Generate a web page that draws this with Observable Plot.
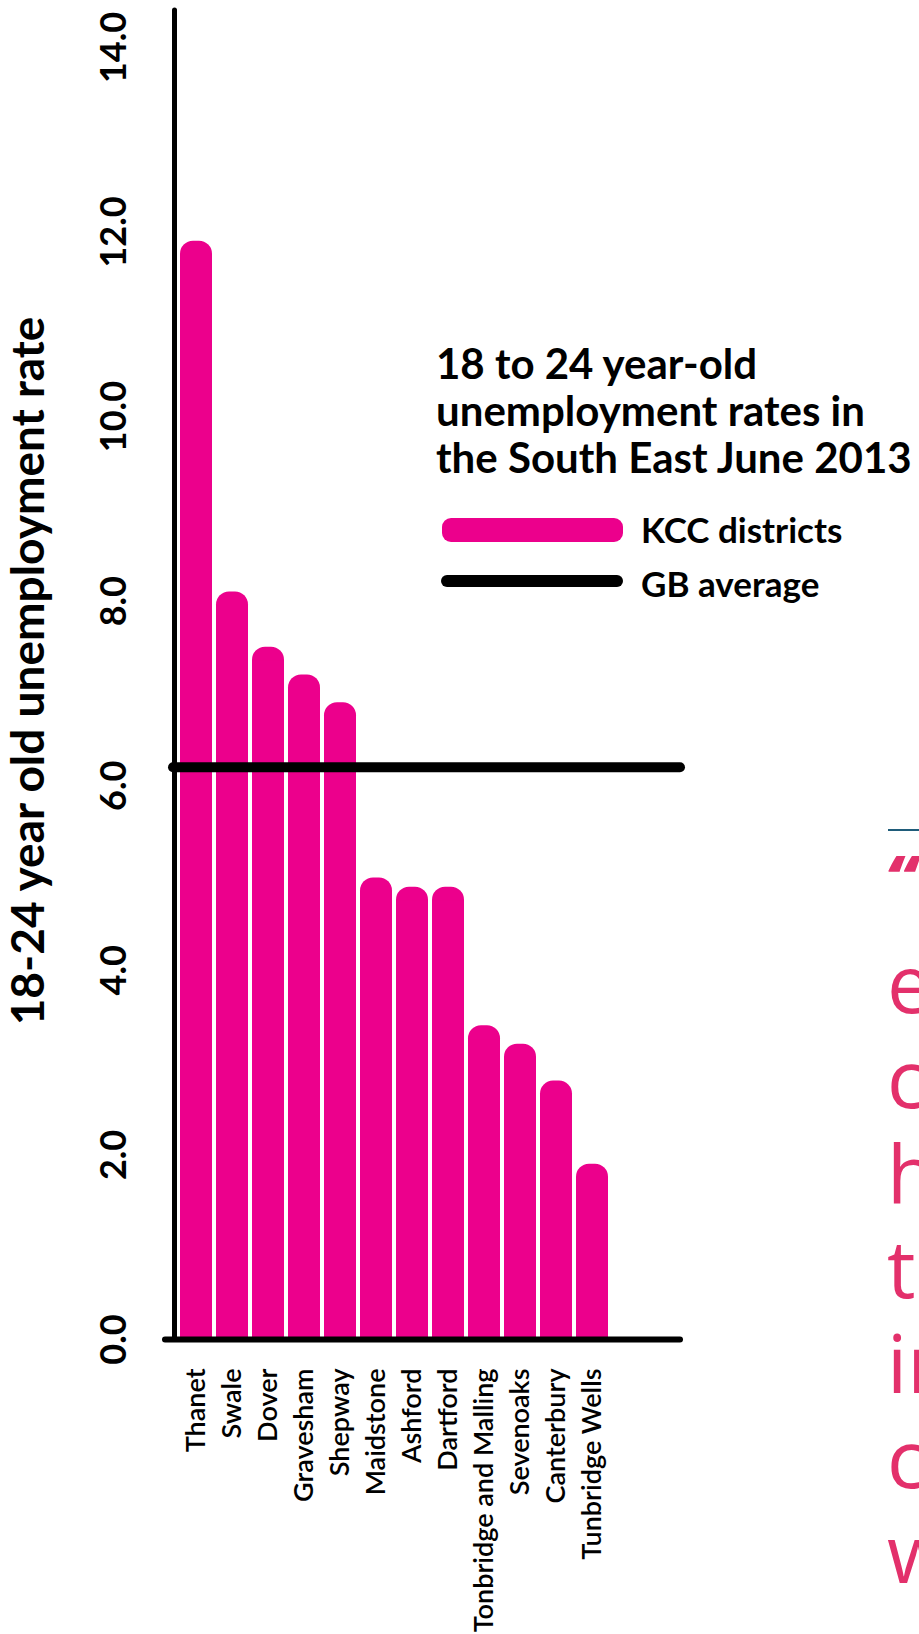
<!DOCTYPE html>
<html>
<head>
<meta charset="utf-8">
<script src="https://cdn.jsdelivr.net/npm/d3@7"></script>
<script src="https://cdn.jsdelivr.net/npm/@observablehq/plot@0.6"></script>
<style>
html, body { margin: 0; padding: 0; background: #fff; }
#wrap { position: relative; width: 919px; height: 1634px; overflow: hidden; font-family: Lato, sans-serif; color: #000; }
#chart { position: absolute; left: 0; top: 0; }
.title { position: absolute; left: 436px; top: 340px; font-weight: 700; font-size: 42px; line-height: 47px; white-space: nowrap; }
.sw { position: absolute; }
.lgtext { position: absolute; font-weight: 700; font-size: 35px; line-height: 34px; white-space: nowrap; }
.quote { position: absolute; left: 888px; white-space: nowrap; color: #E3306B; font-family: "Open Sans", sans-serif; }
</style>
</head>
<body>
<div id="wrap">
  <div id="chart"></div>
  <div class="title" id="title"></div>
  <div class="sw" id="swKcc" style="left:442px;top:518px;width:181px;height:24px;border-radius:9px;"></div>
  <div class="lgtext" id="lgKcc" style="left:641px;top:512px;"></div>
  <div class="sw" id="swGb" style="left:441px;top:575px;width:182px;height:12px;border-radius:6px;background:#000;"></div>
  <div class="lgtext" id="lgGb" style="left:641px;top:566px;"></div>
  <div id="side"></div>
</div>
<script>
// ---- data ----
const districts = ["Thanet", "Swale", "Dover", "Gravesham", "Shepway", "Maidstone", "Ashford", "Dartford", "Tonbridge and Malling", "Sevenoaks", "Canterbury", "Tunbridge Wells"];
const rates = [11.9, 8.1, 7.5, 7.2, 6.9, 5.0, 4.9, 4.9, 3.4, 3.2, 2.8, 1.9];
const gbAverage = [6.2];
const yTicks = [0, 2, 4, 6, 8, 10, 12, 14];
const yTitle = "18-24 year old unemployment rate";
const titleLines = ["18 to 24 year-old", "unemployment rates in", "the South East June 2013"];
const legendLabels = ["KCC districts", "GB average"];
const sideLines = ["e", "c", "h", "t", "in", "c", "w"];

// ---- styles ----
const pink = "#EC008C";
const W = 919, H = 1634;
const mL = 174, mR = 239, mT = 10, mB = 295;

const data = districts.map((d, i) => ({district: d, rate: rates[i]}));

const chart = Plot.plot({
  width: W, height: H,
  marginLeft: mL, marginRight: mR, marginTop: mT, marginBottom: mB,
  style: {fontFamily: "Lato, sans-serif", color: "#000", background: "transparent", overflow: "visible"},
  x: {domain: districts, range: [175.2, 613.2], paddingInner: 0.1, paddingOuter: 0.05, align: 0.5},
  y: {domain: [0, 14.4], nice: false},
  marks: [
    // y axis line
    Plot.ruleX([0], {x: null, y1: 0, y2: 14.4, stroke: "#000", strokeWidth: 5, strokeLinecap: "round", dx: -(W - mL - mR) / 2}),
    // bars: rounded top + square bottom
    Plot.barY(data, {x: "district", y: "rate", fill: pink, rx: 13}),
    Plot.barY(data, {x: "district", y: "rate", fill: pink, insetTop: 14}),
    // baseline
    Plot.ruleY([0], {stroke: "#000", strokeWidth: 6, strokeLinecap: "round", insetLeft: -9}),
    // GB average
    Plot.ruleY(gbAverage, {stroke: "#000", strokeWidth: 10, strokeLinecap: "round", insetLeft: -1}),
    Plot.axisY({ticks: yTicks, tickSize: 0, tickRotate: -90, tickPadding: 49, tickFormat: d => d.toFixed(1), fontSize: 36, fontWeight: 700, label: null}),
    Plot.axisX({tickSize: 0, tickRotate: -90, tickPadding: 29, fontSize: 27, fontWeight: 600, label: null}),
    Plot.text([yTitle], {frameAnchor: "left", rotate: -90, dx: -145, dy: -4, fontSize: 46, fontWeight: 700, textAnchor: "middle"})
  ]
});
document.getElementById("chart").appendChild(chart);

// title & legend
document.getElementById("title").innerHTML = titleLines.join("<br>");
document.getElementById("swKcc").style.background = pink;
document.getElementById("lgKcc").textContent = legendLabels[0];
document.getElementById("lgGb").textContent = legendLabels[1];

// cropped pull-quote on the right edge
const side = document.getElementById("side");
const rule = document.createElement("div");
rule.style.cssText = "position:absolute;left:888px;top:829px;width:31px;height:2px;background:#1F5C7A;";
side.appendChild(rule);
const q = document.createElement("div");
q.className = "quote";
q.style.cssText += "top:846px;font-size:64px;line-height:64px;font-weight:800;font-style:italic;left:885px;";
q.textContent = "\u201C";
side.appendChild(q);
sideLines.forEach((t, i) => {
  const d = document.createElement("div");
  d.className = "quote";
  d.style.top = (1022 + i * 95 - 80) + "px";
  d.style.fontSize = "80px";
  d.style.lineHeight = "80px";
  d.style.left = "887px";
  d.textContent = t;
  side.appendChild(d);
});
</script>
</body>
</html>
